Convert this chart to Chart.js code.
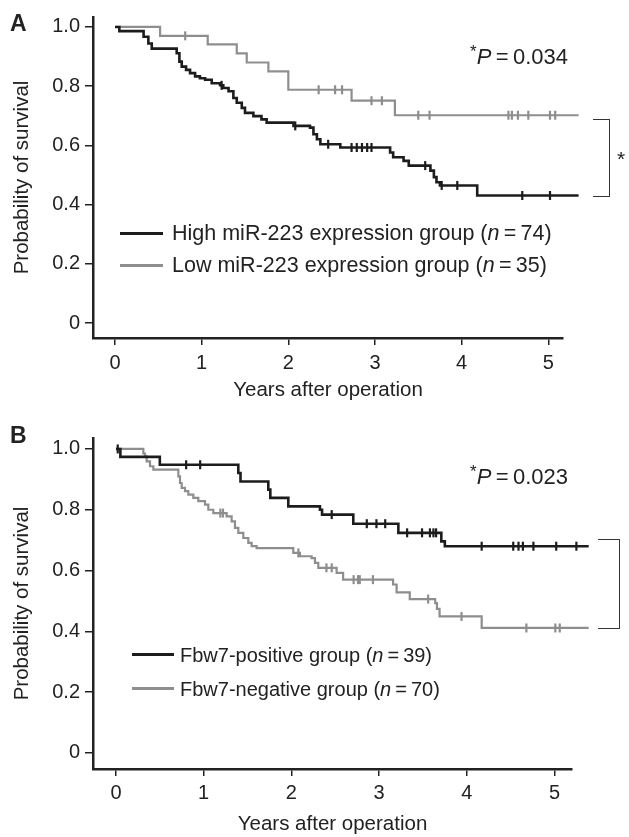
<!DOCTYPE html>
<html><head><meta charset="utf-8">
<script src="https://cdn.jsdelivr.net/npm/chart.js@4.4.1/dist/chart.umd.min.js"></script>
<style>
html,body{margin:0;padding:0;background:#fff;}
#wrap{position:relative;width:629px;height:837px;overflow:hidden;font-family:"Liberation Sans",Arial,sans-serif;color:#222;}
.cv{position:absolute;left:0;width:629px;}
.t{position:absolute;white-space:nowrap;line-height:1;transform:translateY(-50%);}
.ln{position:absolute;height:3px;}
.br{position:absolute;border:1.6px solid #333;border-left:none;box-sizing:border-box;}
</style></head><body>
<div id="wrap">
<div class="cv" style="top:0;height:410px"><canvas id="ca"></canvas></div>
<div class="cv" style="top:415px;height:422px"><canvas id="cb"></canvas></div>

<div class="t" style="left:10px;top:23px;font-size:23px;font-weight:bold;">A</div>
<div class="t" style="left:10px;top:435px;font-size:23px;font-weight:bold;">B</div>

<div class="t" style="left:470px;top:57px;font-size:22px;"><span style="font-size:17px;position:relative;top:-7px">*</span><i>P</i>&#8201;=&#8201;0.034</div>
<div class="t" style="left:470px;top:477px;font-size:22px;"><span style="font-size:17px;position:relative;top:-7px">*</span><i>P</i>&#8201;=&#8201;0.023</div>

<div class="ln" style="left:120px;top:232px;width:43px;background:#1c1c1c"></div>
<div class="t" style="left:172px;top:234px;font-size:21.5px;">High miR-223 expression group (<i>n</i>&#8201;=&#8201;74)</div>
<div class="ln" style="left:120px;top:264px;width:43px;background:#8e8e8e"></div>
<div class="t" style="left:172px;top:266px;font-size:21.5px;">Low miR-223 expression group (<i>n</i>&#8201;=&#8201;35)</div>

<div class="ln" style="left:132px;top:653px;width:42px;background:#1c1c1c"></div>
<div class="t" style="left:180px;top:655px;font-size:20px;">Fbw7-positive group (<i>n</i>&#8201;=&#8201;39)</div>
<div class="ln" style="left:132px;top:687px;width:42px;background:#8e8e8e"></div>
<div class="t" style="left:180px;top:689px;font-size:20px;">Fbw7-negative group (<i>n</i>&#8201;=&#8201;70)</div>

<div class="br" style="left:593px;top:119px;width:17px;height:78px;"></div>
<div class="t" style="left:617px;top:158px;font-size:21px;">*</div>
<div class="br" style="left:598px;top:539px;width:22px;height:90px;"></div>
</div>
<script>
// ---- tick labels ----
const xTickValues = [0, 1, 2, 3, 4, 5];
const yTickValues = [0, 0.2, 0.4, 0.6, 0.8, 1.0];
const yTickLabels = ['0', '0.2', '0.4', '0.6', '0.8', '1.0'];

// ---- Panel A: miR-223 ----
const aHighTimes = [0,0.05,0.33,0.385,0.424,0.712,0.743,0.77,0.82,0.866,0.924,0.98,1.04,1.116,1.212,1.25,1.31,1.366,1.405,1.463,1.50,1.597,1.69,1.75,2.06,2.25,2.29,2.33,2.37,2.60,3.175,3.21,3.33,3.39,3.64,3.68,3.71,3.75,4.18,5.35];
const aHighSurv  = [1.0,0.986,0.967,0.944,0.927,0.911,0.883,0.866,0.855,0.844,0.833,0.827,0.822,0.81,0.803,0.794,0.783,0.76,0.744,0.727,0.71,0.699,0.688,0.677,0.666,0.66,0.638,0.621,0.604,0.593,0.576,0.56,0.548,0.532,0.515,0.493,0.476,0.465,0.431,0.431];
const aHighCensor = [1.23,2.08,2.46,2.73,2.79,2.85,2.91,2.96,3.58,3.77,3.95,4.70,5.02,5.35];

const aLowTimes = [0,0.52,1.07,1.405,1.52,1.77,2.0,2.73,3.23,5.35];
const aLowSurv  = [1.0,0.97,0.941,0.911,0.88,0.85,0.788,0.751,0.702,0.702];
const aLowCensor = [0.81,2.35,2.54,2.62,2.96,3.08,3.5,3.63,4.54,4.58,4.65,4.77,5.02,5.08,5.25];

// ---- Panel B: Fbw7 ----
const bPosTimes = [0,0.05,0.50,1.395,1.42,1.737,1.76,1.965,2.326,2.35,2.706,3.22,3.71,3.75,5.39];
const bPosSurv  = [1.0,0.974,0.948,0.921,0.893,0.866,0.839,0.811,0.80,0.784,0.754,0.724,0.696,0.68,0.68];
const bPosCensor = [0.02,0.80,0.96,2.46,2.86,2.97,3.07,3.32,3.49,3.58,3.62,3.65,4.17,4.53,4.59,4.64,4.76,5.02,5.25];

const bNegTimes = [0,0.312,0.331,0.35,0.388,0.426,0.711,0.73,0.749,0.787,0.825,0.882,0.939,1.015,1.053,1.11,1.262,1.319,1.357,1.395,1.452,1.509,1.547,1.604,2.022,2.098,2.231,2.269,2.307,2.516,2.59,3.16,3.20,3.35,3.64,3.66,3.69,4.17,5.39];
const bNegSurv  = [1.0,0.985,0.976,0.959,0.943,0.932,0.910,0.888,0.872,0.861,0.850,0.839,0.828,0.817,0.80,0.789,0.778,0.762,0.740,0.724,0.707,0.691,0.680,0.674,0.658,0.647,0.641,0.625,0.609,0.592,0.570,0.554,0.528,0.506,0.493,0.474,0.449,0.411,0.411];
const bNegCensor = [1.19,1.22,2.08,2.40,2.46,2.71,2.76,2.78,2.93,3.56,3.94,4.68,5.01,5.06,5.35];

const BLACK = '#1c1c1c', GRAY = '#8e8e8e', AXIS = '#222';

function pts(T, S) { return T.map((t, i) => ({x: t, y: S[i]})); }
function survAt(T, S, t) { let v = S[0]; for (let i = 0; i < T.length; i++) { if (T[i] <= t) v = S[i]; } return v; }
function censorPts(C, T, S) { return C.map(t => ({x: t, y: survAt(T, S, t)})); }

function lineDs(T, S, color, w) {
  return {data: pts(T, S), borderColor: color, borderWidth: w, stepped: true, pointRadius: 0, fill: false, clip: false, order: 2};
}
function censorDs(C, T, S, color) {
  return {data: censorPts(C, T, S), showLine: false, pointStyle: 'line', rotation: 90, pointRadius: 4.5,
          borderColor: color, borderWidth: 2.2, backgroundColor: color, clip: false, order: 1};
}

Chart.defaults.font.family = "'Liberation Sans', Arial, sans-serif";
Chart.defaults.font.size = 20;
Chart.defaults.color = AXIS;

function makeChart(id, datasets, o) {
  return new Chart(document.getElementById(id), {
    type: 'line',
    data: {datasets},
    options: {
      responsive: true, maintainAspectRatio: false, animation: false,
      layout: {padding: {top: o.padTop, right: o.padRight, left: 0, bottom: 0}},
      plugins: {legend: {display: false}, tooltip: {enabled: false}},
      scales: {
        x: {
          type: 'linear', min: o.xMin, max: o.xMax,
          afterBuildTicks: s => { s.ticks = xTickValues.map(v => ({value: v})); },
          afterFit: s => { s.height = o.xAxisH; },
          ticks: {padding: o.xTickPad, callback: v => String(v), maxRotation: 0, font: {size: 20}},
          grid: {drawOnChartArea: false, drawTicks: true, tickLength: 7, color: AXIS, lineWidth: 1.5},
          border: {display: true, color: AXIS, width: 2.5},
          title: {display: true, text: 'Years after operation', font: {size: 20.5}, padding: {top: 2, bottom: o.xTitlePadB}}
        },
        y: {
          type: 'linear', min: o.yMin, max: o.yMax,
          afterBuildTicks: s => { s.ticks = yTickValues.map(v => ({value: v})); },
          afterFit: s => { s.width = 93; },
          ticks: {padding: 5, callback: (v, i) => yTickLabels[i], font: {size: 20}},
          grid: {drawOnChartArea: false, drawTicks: true, tickLength: 8, color: AXIS, lineWidth: 1.5},
          border: {display: true, color: AXIS, width: 2.5},
          title: {display: true, text: 'Probability of survival', font: {size: 20.5}, padding: {top: 10, bottom: 0}}
        }
      }
    }
  });
}

makeChart('ca', [
  lineDs(aHighTimes, aHighSurv, BLACK, 2.6),
  lineDs(aLowTimes, aLowSurv, GRAY, 2.2),
  censorDs(aHighCensor, aHighTimes, aHighSurv, BLACK),
  censorDs(aLowCensor, aLowTimes, aLowSurv, GRAY)
], {padTop: 15, padRight: 66, xMin: -0.254, xMax: 5.17, yMin: -0.05, yMax: 1.0336, xAxisH: 72, xTickPad: 6, xTitlePadB: 7});

makeChart('cb', [
  lineDs(bPosTimes, bPosSurv, BLACK, 2.6),
  lineDs(bNegTimes, bNegSurv, GRAY, 2.2),
  censorDs(bPosCensor, bPosTimes, bPosSurv, BLACK),
  censorDs(bNegCensor, bNegTimes, bNegSurv, GRAY)
], {padTop: 23, padRight: 57, xMin: -0.262, xMax: 5.2, yMin: -0.053, yMax: 1.036, xAxisH: 68, xTickPad: 5, xTitlePadB: 0});
</script>
</body></html>
